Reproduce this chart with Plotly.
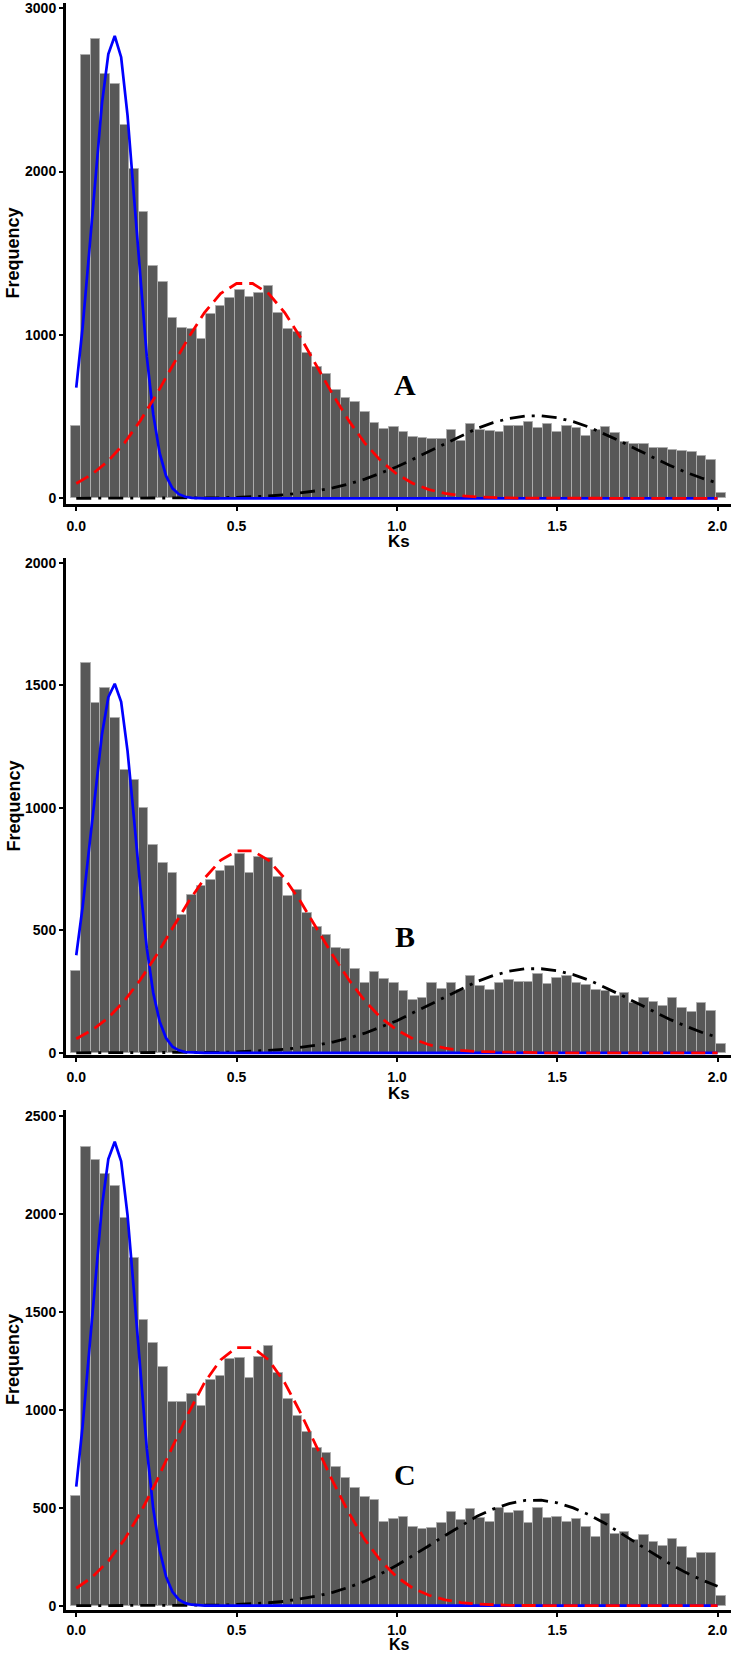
import plotly.graph_objects as go

# ---------------- data ----------------
KS_BINS = [0.00, 0.03, 0.06, 0.09, 0.12, 0.15, 0.18, 0.21, 0.24, 0.27,
           0.30, 0.33, 0.36, 0.39, 0.42, 0.45, 0.48, 0.51, 0.54, 0.57,
           0.60, 0.63, 0.66, 0.69, 0.72, 0.75, 0.78, 0.81, 0.84, 0.87,
           0.90, 0.93, 0.96, 0.99, 1.02, 1.05, 1.08, 1.11, 1.14, 1.17,
           1.20, 1.23, 1.26, 1.29, 1.32, 1.35, 1.38, 1.41, 1.44, 1.47,
           1.50, 1.53, 1.56, 1.59, 1.62, 1.65, 1.68, 1.71, 1.74, 1.77,
           1.80, 1.83, 1.86, 1.89, 1.92, 1.95, 1.98, 2.01]

A_COUNTS = [443, 2715, 2814, 2596, 2535, 2286, 2017, 1751, 1425, 1323,
            1106, 1045, 1035, 974, 1127, 1180, 1229, 1276, 1235, 1255,
            1300, 1137, 1035, 1020, 888, 806, 761, 663, 616, 588,
            527, 463, 424, 439, 408, 377, 371, 361, 365, 418,
            350, 455, 416, 410, 408, 440, 445, 470, 430, 455,
            405, 440, 430, 380, 420, 435, 400, 345, 335, 330,
            310, 305, 295, 290, 285, 260, 235, 34]

B_COUNTS = [334, 1591, 1426, 1490, 1367, 1155, 1115, 1000, 849, 775,
            734, 564, 643, 681, 707, 741, 761, 813, 735, 799,
            793, 717, 639, 666, 572, 514, 480, 426, 423, 340,
            283, 330, 303, 283, 253, 215, 224, 283, 262, 283,
            256, 313, 272, 256, 283, 299, 290, 290, 320, 280,
            307, 313, 283, 276, 256, 253, 232, 242, 204, 224,
            208, 190, 224, 181, 167, 204, 171, 34]

C_COUNTS = [561, 2339, 2274, 2203, 2143, 1977, 1772, 1460, 1342, 1219,
            1041, 1041, 1080, 1019, 1151, 1172, 1259, 1262, 1160, 1267,
            1325, 1186, 1053, 969, 888, 803, 781, 709, 653, 599,
            556, 539, 429, 444, 454, 400, 391, 395, 420, 480,
            437, 493, 449, 429, 500, 471, 485, 420, 500, 446,
            454, 429, 441, 403, 352, 466, 364, 374, 335, 361,
            323, 306, 340, 301, 242, 267, 267, 49]

# fitted-component curves
BLUE_X = [0.00, 0.02, 0.04, 0.06, 0.08, 0.10, 0.12, 0.14, 0.16, 0.18,
          0.20, 0.22, 0.24, 0.26, 0.28, 0.30, 0.32, 0.34, 0.36, 0.38,
          0.40, 2.00]
A_BLUE = [678, 1050, 1500, 1980, 2415, 2720, 2830, 2700, 2342, 1848,
          1327, 867, 515, 278, 137, 61, 25, 9, 3, 1, 0, 0]
B_BLUE = [398, 597, 833, 1080, 1298, 1451, 1506, 1432, 1231, 957,
          673, 427, 245, 128, 60, 25, 10, 3, 1, 0, 0, 0]
C_BLUE = [607, 920, 1292, 1685, 2035, 2279, 2367, 2267, 1991, 1602,
          1183, 801, 497, 283, 148, 71, 31, 13, 5, 2, 0, 0]

CURVE_X = [0.00, 0.05, 0.10, 0.15, 0.20, 0.25, 0.30, 0.35, 0.40, 0.45,
           0.50, 0.55, 0.60, 0.65, 0.70, 0.75, 0.80, 0.85, 0.90, 0.95,
           1.00, 1.05, 1.10, 1.15, 1.20, 1.25, 1.30, 1.35, 1.40, 1.45,
           1.50, 1.55, 1.60, 1.65, 1.70, 1.75, 1.80, 1.85, 1.90, 1.95,
           2.00]
A_RED = [91, 148, 229, 338, 475, 635, 810, 983, 1137, 1253,
         1315, 1315, 1253, 1137, 983, 810, 635, 475, 338, 229,
         148, 91, 53, 30, 16, 8, 4, 2, 1, 0,
         0, 0, 0, 0, 0, 0, 0, 0, 0, 0, 0]
B_RED = [57, 93, 143, 212, 298, 398, 508, 616, 712, 785,
         824, 824, 785, 712, 616, 508, 398, 298, 212, 143,
         93, 57, 33, 19, 10, 5, 3, 1, 1, 0,
         0, 0, 0, 0, 0, 0, 0, 0, 0, 0, 0]
C_RED = [89, 146, 228, 337, 474, 634, 810, 983, 1138, 1254,
         1317, 1317, 1254, 1138, 983, 810, 634, 474, 337, 228,
         146, 89, 53, 30, 16, 8, 4, 2, 1, 0,
         0, 0, 0, 0, 0, 0, 0, 0, 0, 0, 0]
A_BLACK = [0, 0, 0, 0, 0, 0, 1, 1, 2, 3,
           6, 9, 14, 21, 32, 46, 64, 88, 117, 153,
           193, 239, 287, 336, 384, 428, 463, 489, 504, 505,
           493, 469, 435, 393, 346, 297, 248, 202, 160, 124, 93]
B_BLACK = [0, 0, 0, 0, 0, 0, 1, 1, 1, 2,
           4, 6, 10, 14, 22, 31, 44, 60, 80, 104,
           131, 163, 195, 228, 261, 291, 315, 333, 343, 343,
           335, 319, 296, 267, 235, 202, 169, 137, 109, 84, 63]
C_BLACK = [0, 0, 0, 0, 0, 0, 1, 1, 2, 3,
           6, 10, 15, 22, 34, 49, 68, 94, 125, 163,
           206, 255, 306, 358, 409, 456, 493, 521, 537, 538,
           525, 499, 463, 419, 368, 316, 264, 215, 170, 132, 99]

PANEL_LABELS = ["A", "B", "C"]
X_TICKS = [0.0, 0.5, 1.0, 1.5, 2.0]
Y_TICKS = [[0, 1000, 2000, 3000],
           [0, 500, 1000, 1500, 2000],
           [0, 500, 1000, 1500, 2000, 2500]]

# ---------------- layout geometry ----------------
W, H = 736, 1653
ML, MR, MT, MB = 66, 5, 3, 43
PH = H - MT - MB


def ydom(top_px, bot_px):
    return [1 - (bot_px - MT) / PH, 1 - (top_px - MT) / PH]


DOMAINS = [ydom(3, 504), ydom(558, 1055), ydom(1110, 1610)]
KS_Y_PX = [542, 1093, 1644]
KS_SIZE = [17, 17, 16]
X_STANDOFF = [3, 3, 1]
Y_RANGES = [[-35, 3032], [-9, 2019], [-22, 2529]]
X_RANGE = [-0.032, 2.042]
LETTER_POS = [(1.025, 694), (1.025, 476), (1.025, 667)]

panels = [
    (A_COUNTS, A_BLUE, A_RED, A_BLACK),
    (B_COUNTS, B_BLUE, B_RED, B_BLACK),
    (C_COUNTS, C_BLUE, C_RED, C_BLACK),
]

fig = go.Figure()
SANS = "Liberation Sans, Arial, sans-serif"
TICKFONT = dict(family=SANS, size=14, color="black", weight="bold")

for i, (counts, blue, red, black) in enumerate(panels):
    sfx = "" if i == 0 else str(i + 1)
    xa, ya = "x" + sfx, "y" + sfx
    fig.add_trace(go.Bar(x=KS_BINS, y=counts, width=0.03,
                         marker=dict(color="#585858",
                                     line=dict(color="#acacac", width=1)),
                         xaxis=xa, yaxis=ya, showlegend=False))
    fig.add_trace(go.Scatter(x=CURVE_X, y=black, mode="lines",
                             line=dict(color="black", width=2.8,
                                       dash="15px,7px,3px,7px"),
                             xaxis=xa, yaxis=ya, showlegend=False))
    fig.add_trace(go.Scatter(x=BLUE_X, y=blue, mode="lines",
                             line=dict(color="#0000ff", width=2.7),
                             xaxis=xa, yaxis=ya, showlegend=False))
    fig.add_trace(go.Scatter(x=CURVE_X, y=red, mode="lines",
                             line=dict(color="#ff0000", width=2.8,
                                       dash="14px,7px"),
                             xaxis=xa, yaxis=ya, showlegend=False))

    axis_common = dict(showline=True, linecolor="black", linewidth=3,
                       ticks="outside", ticklen=4, tickwidth=1.5,
                       tickcolor="black", showgrid=False, zeroline=False,
                       tickfont=TICKFONT)
    fig.layout["xaxis" + sfx] = dict(domain=[0, 1], range=X_RANGE,
                                     anchor=ya, tickvals=X_TICKS,
                                     tickformat=".1f",
                                     ticklabelstandoff=X_STANDOFF[i],
                                     **axis_common)
    fig.layout["yaxis" + sfx] = dict(domain=DOMAINS[i], range=Y_RANGES[i],
                                     anchor=xa, tickvals=Y_TICKS[i],
                                     **axis_common)

    ymid = (DOMAINS[i][0] + DOMAINS[i][1]) / 2
    fig.add_annotation(text="Frequency", textangle=-90, xref="paper",
                       yref="paper", x=(13 - ML) / (W - ML - MR), y=ymid,
                       showarrow=False, xanchor="center", yanchor="middle",
                       font=dict(family=SANS, size=18, color="black",
                                 weight="bold"))
    fig.add_annotation(text="Ks", xref="paper", yref="paper",
                       x=(399 - ML) / (W - ML - MR),
                       y=1 - (KS_Y_PX[i] - MT) / PH,
                       showarrow=False, xanchor="center", yanchor="middle",
                       borderpad=0,
                       font=dict(family=SANS, size=KS_SIZE[i], color="black",
                                 weight="bold"))
    lx, ly = LETTER_POS[i]
    fig.add_annotation(text=PANEL_LABELS[i], xref=xa, yref=ya, x=lx, y=ly,
                       showarrow=False, xanchor="center", yanchor="middle",
                       font=dict(family="Liberation Serif, Times New Roman, serif",
                                 size=30, color="black", weight="bold"))

fig.update_layout(width=W, height=H,
                  margin=dict(l=ML, r=MR, t=MT, b=MB, autoexpand=False),
                  paper_bgcolor="white", plot_bgcolor="white",
                  bargap=0, showlegend=False)

fig.write_html("out.html",
               config={"displayModeBar": False},
               post_script="document.body.style.margin='0';"
                           "document.documentElement.style.overflow='hidden';"
                           "document.body.style.overflow='hidden';")
